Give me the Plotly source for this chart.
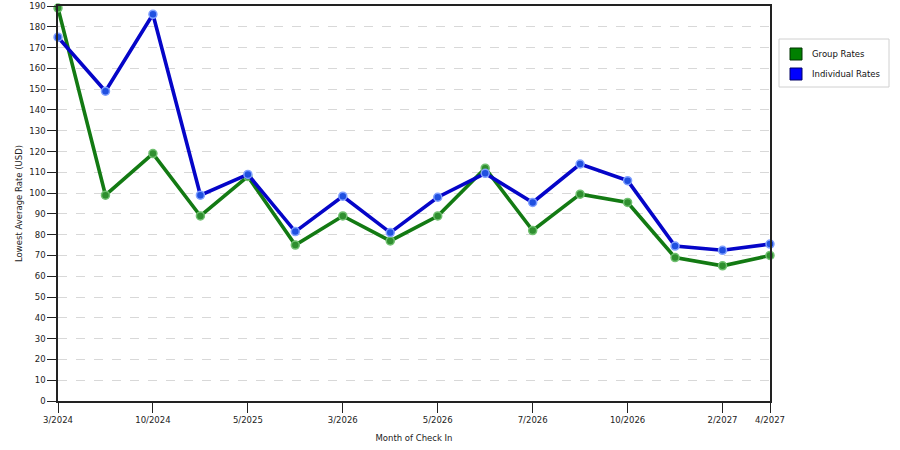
import plotly.graph_objects as go

months = ["3/2024", "", "10/2024", "", "5/2025", "", "3/2026", "", "5/2026", "", "7/2026", "", "10/2026", "", "2/2027", "4/2027"]
group_rates = [189, 99, 119, 89, 108, 75, 89, 77, 89, 112, 82, 99.5, 95.5, 69, 65, 70]
individual_rates = [175, 149, 186, 99, 109, 81.5, 98.5, 81, 98, 109.5, 95.5, 114, 106, 74.5, 72.5, 75.5]
series_names = ["Group Rates", "Individual Rates"]
tick_idx = [i for i, m in enumerate(months) if m]
tick_text = [months[i] for i in tick_idx]

W, H = 900, 450
ML, MR, MT, MB = 58, 130, 6, 49
PW, PH = W - ML - MR, H - MT - MB


def px(xp):
    return (xp - ML) / PW


def py(yp):
    return (H - MB - yp) / PH


x = list(range(len(months)))
line_cols = ["#137a13", "#0505c8"]
marker_cols = ["#2f8f2f", "#2050e0"]
marker_edge = ["#70c070", "#80a0ff"]
legend_cols = ["#008000", "#0000ff"]

fig = go.Figure()
for name, vals, col, mcol, lcol in zip(series_names, [group_rates, individual_rates], line_cols, marker_cols, marker_edge):
    fig.add_trace(go.Scatter(
        x=x, y=vals, mode="lines+markers", name=name, showlegend=False,
        line=dict(color=col, width=3.6),
        marker=dict(size=8, color=mcol, line=dict(color=lcol, width=1.5)),
        cliponaxis=False, hoverinfo="skip",
    ))

# legend box (drawn manually)
shapes = [dict(type="rect", xref="paper", yref="paper", x0=px(779), x1=px(889), y0=py(87), y1=py(39),
               line=dict(color="#d0d0d0", width=1), fillcolor="white", layer="above")]
annotations = []
for i, (name, c) in enumerate(zip(series_names, legend_cols)):
    cy = 54 + i * 20
    shapes.append(dict(type="rect", xref="paper", yref="paper", x0=px(790), x1=px(802), y0=py(cy + 6), y1=py(cy - 6),
                       line=dict(color="#003300" if i == 0 else "#000066", width=1), fillcolor=c, layer="above"))
    annotations.append(dict(text=name, xref="paper", yref="paper", x=px(810), y=py(cy), xanchor="left", yanchor="middle",
                            showarrow=False, font=dict(size=8.5, color="#111111")))

fig.update_layout(
    width=W, height=H,
    margin=dict(l=ML, r=MR, t=MT, b=MB, autoexpand=False),
    paper_bgcolor="white", plot_bgcolor="white",
    font=dict(family="DejaVu Sans", size=8.5, color="#222222"),
    showlegend=False,
    shapes=shapes, annotations=annotations,
    xaxis=dict(
        range=[0, 15], tickmode="array", tickvals=tick_idx, ticktext=tick_text,
        showgrid=False, zeroline=False, showline=True, linecolor="#222222", linewidth=1.5,
        mirror=True, ticks="outside", ticklen=10, tickcolor="#222222", automargin=False,
        title=dict(text="Month of Check In", standoff=11, font=dict(size=8.5)),
    ),
    yaxis=dict(
        range=[0, 190], dtick=10, tick0=0,
        showgrid=True, gridcolor="#d8d8d8", griddash="dash", gridwidth=1,
        zeroline=False, showline=True, linecolor="#222222", linewidth=1.5,
        mirror=True, ticks="outside", ticklen=9, tickcolor="#222222", automargin=False,
        title=dict(text="Lowest Average Rate (USD)", standoff=5, font=dict(size=8.5)),
    ),
)

fig.write_html("out.html", config={"displayModeBar": False},
               post_script="document.body.style.margin='0px';document.body.style.overflow='hidden';")
